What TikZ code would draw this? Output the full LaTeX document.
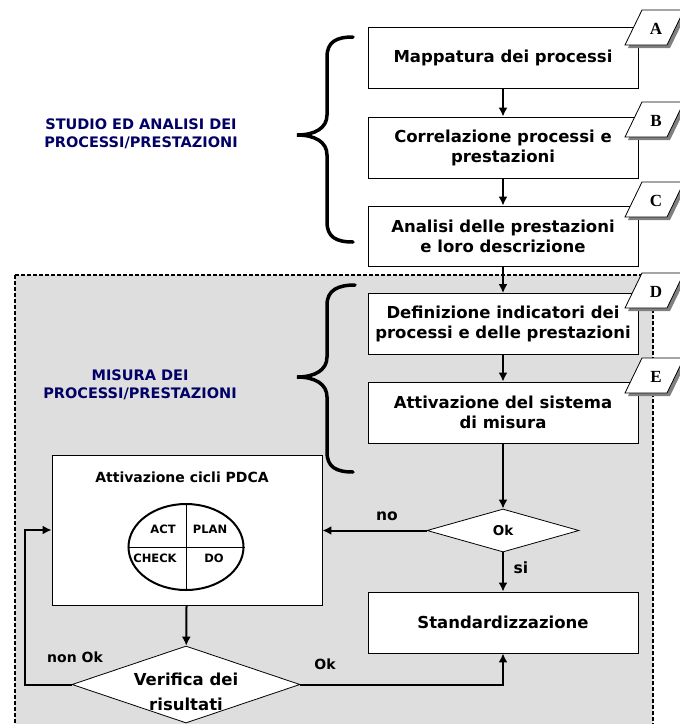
\documentclass[tikz,border=0pt]{standalone}
\usepackage{fontspec}
\setmainfont{DejaVu Sans}
\newfontfamily\tagfont{Liberation Serif}
\usetikzlibrary{arrows.meta,shapes.geometric}
\definecolor{headblue}{RGB}{0,0,102}
\definecolor{regiongray}{RGB}{222,222,222}
\definecolor{shadowgray}{RGB}{128,128,128}

\tikzset{
  stepbox/.style={draw, line width=0.8pt, fill=white, minimum width=270pt,
    minimum height=61pt, align=center, inner sep=0pt,
    font=\bfseries\fontsize{16.5}{20}\selectfont},
  flow/.style={line width=2pt, -{Latex[length=9pt,width=9pt]}},
  bracepath/.style={line width=3.5pt, line cap=round},
  headtext/.style={text=headblue, align=center,
    font=\bfseries\fontsize{14.5}{17.5}\selectfont},
  smalllabel/.style={font=\bfseries\fontsize{14}{17}\selectfont},
  branchlabel/.style={font=\bfseries\fontsize{15.5}{18}\selectfont},
  quarter/.style={font=\bfseries\fontsize{11.5}{13}\selectfont},
  decision/.style={draw, diamond, line width=0.8pt, fill=white, inner sep=0pt},
  tagbox/.pic={
    \fill[shadowgray] (-9.5,-14.5) -- (32.5,-14.5) -- (15.5,20.5) -- (-26.5,20.5) -- cycle;
    \draw[line width=0.8pt, fill=white] (-12.5,-17.5) -- (29.5,-17.5) -- (12.5,17.5) -- (-29.5,17.5) -- cycle;
    \node (-l) at (1.5,1) {\tagfont\bfseries\fontsize{17}{17}\selectfont #1};
  }
}

\begin{document}
\begin{tikzpicture}[x=1pt,y=-1pt]
\useasboundingbox (0,0) rectangle (680,724);
\fill[white] (0,0) rectangle (680,724);

% shaded measurement region
\draw[fill=regiongray, line width=1.4pt, dash pattern=on 4pt off 2pt]
  (15,275) rectangle (653,740);

% study and analysis steps
\node[stepbox] (sA) at (503,58) {Mappatura dei processi};
\node[stepbox] (sB) at (503,147.5) {Correlazione processi e\\prestazioni};
\node[stepbox, minimum height=60pt] (sC) at (503,236) {Analisi delle prestazioni\\e loro descrizione};
% measurement steps
\node[stepbox] (sD) at (503,324) {Definizione indicatori dei\\processi e delle prestazioni};
\node[stepbox] (sE) at (503,412.5) {Attivazione del sistema\\di misura};
\node[stepbox] (std) at (503,622.5) {Standardizzazione};

\draw[flow] (sA) -- (sB);
\draw[flow] (sB) -- (sC);
\draw[flow] (sC) -- (sD);
\draw[flow] (sD) -- (sE);

% step tags
\pic (tA) at (654.5,27.5) {tagbox=A};
\pic (tB) at (654.5,119.5) {tagbox=B};
\pic (tC) at (654.5,199.5) {tagbox=C};
\pic (tD) at (654.5,290.5) {tagbox=D};
\pic (tE) at (654.5,375.5) {tagbox=E};

% braces
\draw[bracepath] (353,37) .. controls (336,37) and (327,42) .. (327,57)
  -- (327,115) .. controls (327,128) and (315,135) .. (297,135)
  .. controls (315,135) and (327,142) .. (327,155)
  -- (327,222) .. controls (327,237) and (336,242) .. (353,242);
\draw[bracepath] (355,285) .. controls (338,285) and (327,290) .. (327,305)
  -- (327,357) .. controls (327,370) and (315,377) .. (297,377)
  .. controls (315,377) and (327,384) .. (327,397)
  -- (327,452) .. controls (327,467) and (336,472) .. (353,472);

\node[headtext] (hStudy) at (141,134) {STUDIO ED ANALISI DEI\\PROCESSI/PRESTAZIONI};
\node[headtext] (hMeasure) at (140,385) {MISURA DEI\\PROCESSI/PRESTAZIONI};

% PDCA block
\node[draw, line width=0.8pt, fill=white, minimum width=270pt, minimum height=150pt, inner sep=0pt] (pdca) at (187,530) {};
\node[font=\bfseries\fontsize{14}{17}\selectfont] (pdcaT) at (182,477) {Attivazione cicli PDCA};
\node[draw, ellipse, line width=2pt, minimum width=115pt, minimum height=86pt, inner sep=0pt] (wheel) at (186,547) {};
\draw[line width=1pt] (wheel.north) -- (wheel.south);
\draw[line width=1pt] (wheel.west) -- (wheel.east);
\node[quarter] (qAct) at (163,529) {ACT};
\node[quarter] (qPlan) at (210,529) {PLAN};
\node[quarter] (qCheck) at (155,558) {CHECK};
\node[quarter] (qDo) at (214,558) {DO};

% decisions
\node[decision, minimum width=152pt, minimum height=43pt] (ok) at (503,530.5) {};
\node[font=\bfseries\fontsize{13.5}{16}\selectfont] (okT) at (503,530.5) {Ok};
\node[decision, minimum width=228pt, minimum height=77pt] (ver) at (186,684.5) {};
\node[align=center, font=\bfseries\fontsize{16.5}{25}\selectfont] (verT) at (186,692) {Verifica dei\\risultati};

\coordinate (loopc) at (25,530);

\draw[flow] (sE) -- (ok);
\draw[flow] (ok.west) -- (ok.west -| pdca.east);
\draw[flow] (ok) -- (std);
\draw[flow] (pdca) -- (ver);
\draw[flow] (ver.west) -| (loopc) |- (pdca.west);
\draw[flow] (ver.east) -| (std.south);

\node[branchlabel] (lNo) at (387,516) {no};
\node[branchlabel] (lSi) at (521,568) {si};
\node[smalllabel] (lNonOk) at (75,657) {non Ok};
\node[smalllabel] (lOk) at (325,664) {Ok};
\end{tikzpicture}
\end{document}
